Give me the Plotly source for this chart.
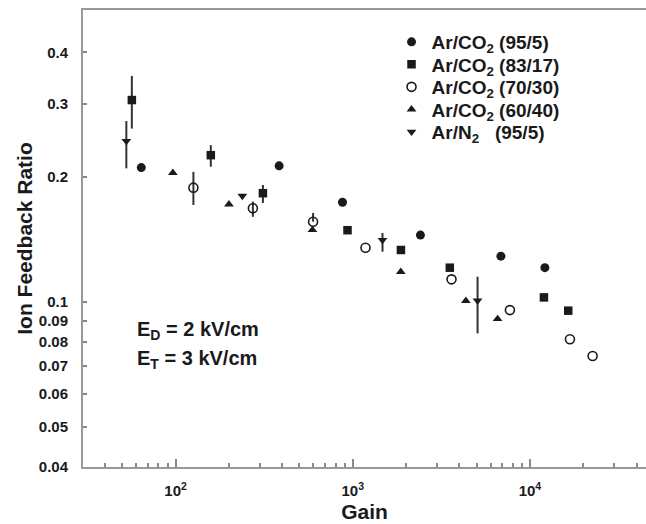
import numpy as np
import plotly.graph_objects as go

# ---- data ----
# Ar/CO2 (95/5) filled circles
g_955 = [64.0, 384, 875, 2410, 6860, 12150]
r_955 = [0.211, 0.213, 0.174, 0.145, 0.129, 0.121]

# Ar/CO2 (83/17) filled squares
g_8317 = [56.6, 158, 311, 934, 1870, 3530, 12000, 16460]
r_8317 = [0.307, 0.226, 0.183, 0.149, 0.1335, 0.121, 0.1026, 0.0953]
hi_8317 = [0.351, 0.239, 0.1915, None, None, None, None, None]
lo_8317 = [0.262, 0.212, 0.1733, None, None, None, None, None]

# Ar/CO2 (70/30) open circles
g_7030 = [126, 273, 597, 1180, 3610, 7710, 16830, 22600]
r_7030 = [0.1887, 0.1683, 0.1562, 0.1352, 0.1134, 0.0956, 0.0813, 0.0741]
hi_7030 = [0.206, 0.1747, 0.164, None, None, None, None, None]
lo_7030 = [0.1714, 0.1605, 0.1562, None, None, None, None, None]

# Ar/CO2 (60/40) filled triangles up
g_6040 = [96.5, 200, 592, 1867, 4350, 6570]
r_6040 = [0.205, 0.172, 0.1492, 0.1183, 0.1007, 0.091]

# Ar/N2 (95/5) filled triangles down
g_n2 = [52.7, 238, 1472, 5064]
r_n2 = [0.2445, 0.1802, 0.1411, 0.1007]
hi_n2 = [0.2732, None, 0.1467, 0.1151]
lo_n2 = [0.2101, None, 0.1322, 0.0840]

y_ticks = [0.04, 0.05, 0.06, 0.07, 0.08, 0.09, 0.1, 0.2, 0.3, 0.4]
y_ticktext = ["0.04", "0.05", "0.06", "0.07", "0.08", "0.09", "0.1", "0.2", "0.3", "0.4"]
x_major = [100, 1000, 10000]
x_major_text = ["10<sup>2</sup>", "10<sup>3</sup>", "10<sup>4</sup>"]
x_minor = [m * d for d in (10, 100, 1000, 10000) for m in range(2, 10) if m * d != 10 * d]

FONT = "Liberation Sans, Arial, Helvetica, sans-serif"
INK = "#1a1a1a"

# plot area in pixels (for placing legend rows / annotations in paper units)
PL, PT, PW, PH = 83, 10, 563, 457


def px_to_paper_y(py):
    return 1 - (py - PT) / PH


def err(vals, hi, lo):
    plus, minus = [], []
    for v, h, l in zip(vals, hi, lo):
        plus.append(0 if h is None else h - v)
        minus.append(0 if l is None else v - l)
    return dict(type="data", array=plus, arrayminus=minus, visible=True,
                color="#333333", thickness=2, width=0)


fig = go.Figure()

series = [
    ("Ar/CO<sub>2</sub> (95/5)", g_955, r_955, None, None,
     dict(symbol="circle", size=9, color=INK)),
    ("Ar/CO<sub>2</sub> (83/17)", g_8317, r_8317, hi_8317, lo_8317,
     dict(symbol="square", size=8.5, color=INK)),
    ("Ar/CO<sub>2</sub> (70/30)", g_7030, r_7030, hi_7030, lo_7030,
     dict(symbol="circle-open", size=9, color=INK, line=dict(width=1.6, color=INK))),
    ("Ar/CO<sub>2</sub> (60/40)", g_6040, r_6040, None, None,
     dict(symbol="triangle-up", size=8.5, color=INK)),
    ("Ar/N<sub>2</sub>\u00a0\u00a0\u00a0(95/5)", g_n2, r_n2, hi_n2, lo_n2,
     dict(symbol="triangle-down", size=8.5, color=INK)),
]

legend_rows = [42, 64.5, 87, 109.5, 132]
legend_layout = {}
for i, (name, gx, ry, hi, lo, mk) in enumerate(series):
    kw = {}
    if hi is not None:
        kw["error_y"] = err(ry, hi, lo)
    lg = "legend" if i == 0 else f"legend{i + 1}"
    fig.add_trace(go.Scatter(x=gx, y=ry, mode="markers", name=name, marker=mk,
                             legend=lg, **kw))
    legend_layout[lg] = dict(x=0.548, y=px_to_paper_y(legend_rows[i]),
                             xanchor="left", yanchor="middle",
                             bgcolor="rgba(0,0,0,0)", borderwidth=0,
                             font=dict(family=FONT, size=19, color=INK, weight="bold"))

fig.update_layout(
    width=646, height=524,
    margin=dict(l=PL, r=0, t=PT, b=524 - PT - PH),
    paper_bgcolor="white", plot_bgcolor="white",
    font=dict(family=FONT, color=INK, size=15),
    showlegend=True,
    xaxis=dict(type="log", range=[np.log10(30), 4.6554],
               tickvals=x_major, ticktext=x_major_text,
               ticks="inside", ticklen=8, tickwidth=1.5, tickcolor="#888888",
               ticklabelstandoff=9,
               minor=dict(tickvals=x_minor, ticks="inside", ticklen=4,
                          tickwidth=1.5, tickcolor="#888888", showgrid=False),
               showline=True, linecolor="#999999", linewidth=2, mirror=True,
               showgrid=False, zeroline=False,
               tickfont=dict(family=FONT, size=15, color=INK, weight="bold"),
               title=dict(text="Gain", standoff=6,
                          font=dict(family=FONT, size=21, color=INK, weight="bold"))),
    yaxis=dict(type="log", range=[np.log10(0.04), -0.2957],
               tickvals=y_ticks, ticktext=y_ticktext,
               ticks="inside", ticklen=4, tickwidth=1.5, tickcolor="#888888",
               ticklabelstandoff=10,
               showline=True, linecolor="#999999", linewidth=2,
               showgrid=False, zeroline=False,
               tickfont=dict(family=FONT, size=15, color=INK, weight="bold"),
               title=dict(text="Ion Feedback Ratio", standoff=0,
                          font=dict(family=FONT, size=21, color=INK, weight="bold"))),
    yaxis2=dict(type="log", range=[np.log10(0.04), -0.2957], overlaying="y",
                side="left", tickvals=[0.1], ticks="inside", ticklen=9,
                tickwidth=1.5, tickcolor="#888888", showticklabels=False,
                showline=False, showgrid=False, zeroline=False),
    **legend_layout,
)

fig.add_annotation(text="E<sub>D</sub> = 2 kV/cm", xref="paper", yref="paper",
                   x=(135 - PL) / PW, y=px_to_paper_y(330), xanchor="left",
                   yanchor="middle", showarrow=False,
                   font=dict(family=FONT, size=20, color=INK, weight="bold"))
fig.add_annotation(text="E<sub>T</sub> = 3 kV/cm", xref="paper", yref="paper",
                   x=(135 - PL) / PW, y=px_to_paper_y(359), xanchor="left",
                   yanchor="middle", showarrow=False,
                   font=dict(family=FONT, size=20, color=INK, weight="bold"))

fig.write_html("out.html")
